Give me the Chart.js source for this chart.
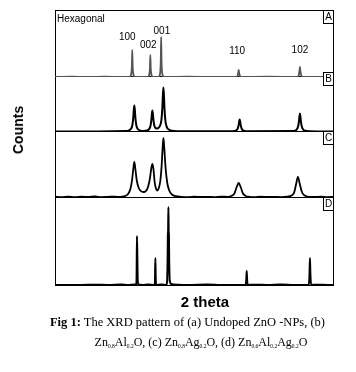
<!DOCTYPE html>
<html>
<head>
<meta charset="utf-8">
<script src="https://cdn.jsdelivr.net/npm/chart.js@4.4.0/dist/chart.umd.min.js"></script>
<style>
  body { margin: 0; background: #fff; }
  #wrap { position: relative; width: 356px; height: 372px; background: #fff; overflow: hidden; }
  #xrd { position: absolute; left: 0; top: 0; }
  .txt { position: absolute; white-space: nowrap; color: #000; }
  #ylab { left: 17.5px; top: 130px; font: bold 14px Arial, "Liberation Sans", sans-serif; line-height: 16px;
          transform: translate(-50%, -50%) rotate(-90deg); }
  #xlab { left: 205px; top: 294px; font: bold 15px Arial, "Liberation Sans", sans-serif; line-height: 16px;
          transform: translateX(-50%); }
  .cap { font: 12.5px "Liberation Serif", "Times New Roman", serif; line-height: 14px; transform: translateX(-50%); }
  #cap2 { font-size: 12px; }
  .cap sub { font-size: 5.5px; vertical-align: -2px; line-height: 0; }
  #cap1 { left: 187.5px; top: 315px; }
  #cap2 { left: 201px; top: 335px; }
</style>
</head>
<body>
<div id="wrap">
  <canvas id="xrd" width="356" height="372"></canvas>
  <div id="ylab" class="txt">Counts</div>
  <div id="xlab" class="txt">2 theta</div>
  <div id="cap1" class="txt cap"><b>Fig 1:</b> The XRD pattern of (a) Undoped ZnO -NPs, (b)</div>
  <div id="cap2" class="txt cap">Zn<sub>0.8</sub>Al<sub>0.2</sub>O, (c) Zn<sub>0.8</sub>Ag<sub>0.2</sub>O, (d) Zn<sub>0.6</sub>Al<sub>0.2</sub>Ag<sub>0.2</sub>O</div>
</div>
<script>
// 2 theta range shown (no ticks in the original)
const thetaMin = 20;
const thetaMax = 62;

// (A) undoped ZnO
const thetaA = [20.0, 22.5, 25.0, 27.5, 30.0,
  31.20, 31.45, 31.57, 31.63, 31.69, 31.81, 32.05,
  33.95, 34.18, 34.29, 34.35, 34.41, 34.52, 34.75,
  35.55, 35.80, 35.92, 35.98, 36.04, 36.16, 36.40,
  40.0, 44.0,
  47.25, 47.48, 47.58, 47.65, 47.72, 47.82, 48.05,
  52.0,
  56.45, 56.68, 56.79, 56.87, 56.95, 57.06, 57.30,
  60.0, 62.0];
const countsA = [0, 3, 0, 4, 0,
  0, 25, 110, 270, 110, 25, 0,
  0, 22, 90, 220, 90, 22, 0,
  0, 30, 150, 400, 150, 30, 0,
  3, 0,
  0, 15, 40, 70, 40, 15, 0,
  3,
  0, 18, 55, 100, 55, 18, 0,
  2, 0];

// (B) Zn0.8Al0.2O
const thetaB = [20.0, 26.0, 30.64, 31.14, 31.44, 31.64, 31.77, 31.86,
  31.94, 32.02, 32.11, 32.24, 32.44, 32.74, 33.30,
  33.86, 34.16, 34.36, 34.49, 34.58, 34.66, 34.74, 34.83, 34.96, 35.16, 35.40,
  35.62, 35.82, 36.02, 36.15, 36.24, 36.32, 36.40, 36.49, 36.62, 36.82, 37.12, 37.62, 38.50,
  46.80, 47.30, 47.50, 47.63, 47.72, 47.80, 47.88, 47.97, 48.10, 48.30, 48.80,
  55.90, 56.37, 56.57, 56.70, 56.79, 56.87, 56.95, 57.04, 57.17, 57.37, 57.67, 58.30, 62.0];
const countsB = [0, 1, 4, 11, 27, 63, 130, 213,
  260, 213, 130, 63, 27, 12, 6,
  10, 23, 52, 106, 173, 210, 174, 110, 58, 34, 30,
  40, 60, 115, 225, 362, 440, 360, 220, 107, 46, 19, 7, 3,
  2, 12, 29, 60, 98, 120, 98, 60, 29, 12, 3,
  4, 19, 44, 90, 147, 180, 147, 90, 44, 19, 8, 3, 1];

// (C) Zn0.8Ag0.2O
const thetaC = [20, 21, 22, 23, 24, 25, 26, 27, 28, 29, 29.8,
  30.5, 31.0, 31.35, 31.6, 31.8, 31.94, 32.08, 32.3, 32.6, 32.9, 33.3,
  33.7, 34.0, 34.3, 34.5, 34.66, 34.82, 35.0, 35.2, 35.4,
  35.6, 35.85, 36.05, 36.2, 36.32, 36.45, 36.65, 36.9, 37.2, 37.6, 38.2,
  39, 40, 41, 42, 43, 44, 45, 46,
  46.6, 47.0, 47.35, 47.65, 47.95, 48.3, 48.7, 49.3,
  50, 51, 52, 53, 54, 55,
  55.6, 56.0, 56.3, 56.57, 56.85, 57.2, 57.6, 58.2,
  59, 60, 61, 62];
const countsC = [12, 8, 14, 9, 13, 10, 15, 9, 12, 14, 10,
  18, 40, 90, 180, 300, 360, 300, 180, 100, 72, 60,
  72, 110, 200, 300, 340, 290, 160, 95, 75,
  95, 170, 320, 500, 600, 500, 300, 150, 75, 35, 18,
  12, 9, 14, 10, 12, 9, 13, 12,
  22, 45, 110, 150, 110, 45, 20, 12,
  9, 14, 10, 12, 9, 14,
  25, 55, 140, 210, 140, 55, 25, 12,
  10, 13, 9, 11];

// (D) Zn0.6Al0.2Ag0.2O
const thetaD = [20, 24, 26, 28, 30, 31, 32.0, 32.22,
  32.28, 32.34, 32.40, 32.45, 32.55, 33.2, 34.0, 34.98,
  35.05, 35.11, 35.17, 35.26, 36.0, 36.75,
  36.88, 36.96, 36.99, 37.03, 37.07, 37.11, 37.15, 37.19, 37.28, 37.5, 38.5, 40, 43, 45, 48.7,
  48.8, 48.86, 48.92, 49.0, 50, 52, 54, 56, 58.2,
  58.3, 58.38, 58.44, 58.55, 59.5, 61, 62];
const countsD = [0, 0, 3, 0, 4, 0, 5, 0,
  60, 490, 260, 50, 5, 0, 4, 0,
  40, 270, 40, 0, 5, 0,
  40, 300, 500, 540, 780, 540, 500, 250, 40, 10, 3, 0, 4, 0, 0,
  60, 140, 50, 0, 3, 0, 4, 0, 0,
  80, 270, 120, 0, 3, 0, 0];

// hkl labels written over panel A
const hklLabels = ['100', '002', '001', '110', '102'];
const hklTheta = [30.88, 34.05, 36.09, 47.42, 56.87];
const hklCounts = [370, 290, 430, 230, 240];

const panelIds = ['yA', 'yB', 'yC', 'yD'];
const panelNames = ['A', 'B', 'C', 'D'];
const boxShift = [0, -5, -1, -1];

const toPoints = (theta, counts) => theta.map((t, i) => ({ x: t, y: counts[i] }));

const framePlugin = {
  id: 'xrdFrames',
  beforeDatasetsDraw(chart) {
    const { ctx, chartArea, scales } = chart;
    ctx.save();
    ctx.strokeStyle = '#000';
    ctx.lineWidth = 1;
    ctx.strokeRect(chartArea.left + 0.5, chartArea.top + 0.5, chartArea.width - 1, chartArea.height - 1);
    ctx.beginPath();
    panelIds.slice(0, 3).forEach((id) => {
      const y = Math.round(scales[id].bottom) - 0.5;
      ctx.moveTo(chartArea.left, y);
      ctx.lineTo(chartArea.right, y);
    });
    ctx.stroke();
    ctx.restore();
  },
  afterDatasetsDraw(chart) {
    const { ctx, chartArea, scales } = chart;
    ctx.save();
    ctx.strokeStyle = '#000';
    ctx.lineWidth = 1;
    ctx.font = '10px Arial, "Liberation Sans", sans-serif';
    ctx.textAlign = 'center';
    ctx.textBaseline = 'middle';
    // panel letters in little boxes on the right edge
    panelIds.forEach((id, i) => {
      const top = Math.round(scales[id].top) + boxShift[i];
      const x = chartArea.right - 11;
      ctx.fillStyle = '#fff';
      ctx.fillRect(x, top, 10, 13);
      ctx.strokeRect(x + 0.5, top + 0.5, 10, 13);
      ctx.fillStyle = '#000';
      ctx.fillText(panelNames[i], x + 5.5, top + 7.5);
    });
    ctx.textBaseline = 'alphabetic';
    hklLabels.forEach((label, i) => {
      ctx.fillText(label, scales.x.getPixelForValue(hklTheta[i]), scales.yA.getPixelForValue(hklCounts[i]));
    });
    ctx.textAlign = 'left';
    ctx.fillText('Hexagonal', chartArea.left + 2, chartArea.top + 12);
    ctx.restore();
  }
};

const ctx = document.getElementById('xrd').getContext('2d');
const chart = new Chart(ctx, {
  type: 'line',
  data: {
    datasets: [
      { label: 'A', data: toPoints(thetaA, countsA), yAxisID: 'yA', borderColor: '#555', borderWidth: 1.8 },
      { label: 'B', data: toPoints(thetaB, countsB), yAxisID: 'yB', borderColor: '#000', borderWidth: 2 },
      { label: 'C', data: toPoints(thetaC, countsC), yAxisID: 'yC', borderColor: '#000', borderWidth: 1.8 },
      { label: 'D', data: toPoints(thetaD, countsD), yAxisID: 'yD', borderColor: '#000', borderWidth: 2 },
    ],
  },
  options: {
    responsive: false,
    animation: false,
    devicePixelRatio: 1,
    layout: { padding: { left: 55, top: 10, right: 22, bottom: 86 } },
    elements: {
      point: { radius: 0 },
      line: { cubicInterpolationMode: 'monotone', fill: false },
    },
    plugins: {
      legend: { display: false },
      tooltip: { enabled: false },
    },
    scales: {
      x: { type: 'linear', min: thetaMin, max: thetaMax, display: false },
      // four panels stacked on one left axis column, A on top
      yA: { position: 'left', stack: 'xrd', stackWeight: 67, weight: 4, min: 0, max: 670, display: false },
      yB: { position: 'left', stack: 'xrd', stackWeight: 55, weight: 3, min: -5, max: 545, display: false },
      yC: { position: 'left', stack: 'xrd', stackWeight: 66, weight: 2, min: 0, max: 660, display: false },
      yD: { position: 'left', stack: 'xrd', stackWeight: 88, weight: 1, min: -10, max: 870, display: false },
    },
  },
  plugins: [framePlugin],
});
</script>
</body>
</html>
